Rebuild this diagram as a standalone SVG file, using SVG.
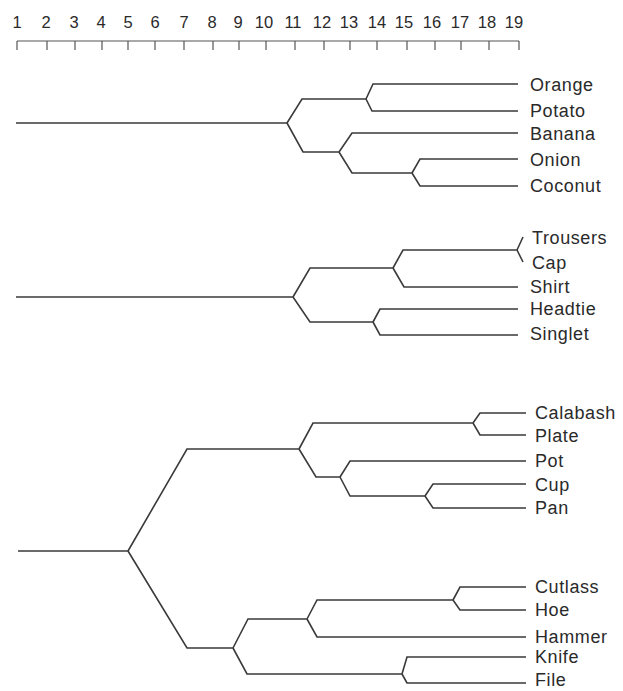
<svg xmlns="http://www.w3.org/2000/svg" width="623" height="691" viewBox="0 0 623 691">
<style>
.ln{fill:none;stroke:#3a3a3a;stroke-width:1.6;stroke-linejoin:miter;stroke-linecap:butt}
.sc{fill:none;stroke:#555;stroke-width:1.2}
.lb{font-family:"Liberation Sans",Arial,sans-serif;font-size:18px;fill:#2a2a2a;letter-spacing:0.6px}
.nm{font-family:"Liberation Sans",Arial,sans-serif;font-size:16.5px;fill:#2a2a2a;text-anchor:middle}
</style>
<rect width="623" height="691" fill="#fff"/>
<g id="scale">
<path class="sc" d="M17,41 H519 M17,41 V50 M47,41 V50 M75,41 V50 M102,41 V50 M128,41 V50 M155,41 V50 M184,41 V50 M213,41 V50 M239,41 V50 M266,41 V50 M295,41 V50 M324,41 V50 M350,41 V50 M377,41 V50 M407,41 V50 M435,41 V50 M461,41 V50 M489,41 V50 M519,41 V50"/>
<text class="nm" x="17" y="28">1</text>
<text class="nm" x="46" y="28">2</text>
<text class="nm" x="74" y="28">3</text>
<text class="nm" x="101" y="28">4</text>
<text class="nm" x="128" y="28">5</text>
<text class="nm" x="155" y="28">6</text>
<text class="nm" x="184" y="28">7</text>
<text class="nm" x="212" y="28">8</text>
<text class="nm" x="238" y="28">9</text>
<text class="nm" x="264" y="28">10</text>
<text class="nm" x="293" y="28">11</text>
<text class="nm" x="322" y="28">12</text>
<text class="nm" x="349" y="28">13</text>
<text class="nm" x="377" y="28">14</text>
<text class="nm" x="404" y="28">15</text>
<text class="nm" x="432" y="28">16</text>
<text class="nm" x="460" y="28">17</text>
<text class="nm" x="487" y="28">18</text>
<text class="nm" x="514" y="28">19</text>
</g>
<g id="connectors">
<path class="ln" d="M16,123 H287 M287,123 L302,99 H366 M366,99 L373,84 H518 M366,99 L372,111 H518 M287,123 L303,152 H339 M339,152 L352,133 H518 M339,152 L352,173 H412 M412,173 L420,159 H518 M412,173 L420,186 H518"/>
<path class="ln" d="M16,297 H293 M293,297 L310,268 H393 M393,268 L403,250 H517 M517,250 L523,237 M517,250 L523,262 M393,268 L404,287 H518 M293,297 L310,322 H373 M373,322 L380,309 H518 M373,322 L380,335 H518"/>
<path class="ln" d="M18,551 H128 M128,551 L187,449 H299 M299,449 L313,423 H473 M473,423 L480,413 H526 M473,423 L480,435 H526 M299,449 L316,477 H340 M340,477 L350,461 H526 M340,477 L350,496 H425 M425,496 L433,484 H526 M425,496 L433,508 H526 M128,551 L187,648 H233 M233,648 L248,619 H307 M307,619 L317,600 H453 M453,600 L460,587 H526 M453,600 L460,610 H526 M307,619 L317,637 H526 M233,648 L247,674 H402 M402,674 L407,657 H526 M402,674 L407,683 H526"/>
</g>
<g id="orange"><text class="lb" x="530" y="91">Orange</text></g>
<g id="potato"><text class="lb" x="530" y="117">Potato</text></g>
<g id="banana"><text class="lb" x="530" y="140">Banana</text></g>
<g id="onion"><text class="lb" x="530" y="166">Onion</text></g>
<g id="coconut"><text class="lb" x="530" y="192">Coconut</text></g>
<g id="trousers"><text class="lb" x="532" y="244">Trousers</text></g>
<g id="cap"><text class="lb" x="532" y="269">Cap</text></g>
<g id="shirt"><text class="lb" x="530" y="293">Shirt</text></g>
<g id="headtie"><text class="lb" x="530" y="315">Headtie</text></g>
<g id="singlet"><text class="lb" x="530" y="340">Singlet</text></g>
<g id="calabash"><text class="lb" x="535" y="419">Calabash</text></g>
<g id="plate"><text class="lb" x="535" y="442">Plate</text></g>
<g id="pot"><text class="lb" x="535" y="467">Pot</text></g>
<g id="cup"><text class="lb" x="535" y="491">Cup</text></g>
<g id="pan"><text class="lb" x="535" y="514">Pan</text></g>
<g id="cutlass"><text class="lb" x="535" y="593">Cutlass</text></g>
<g id="hoe"><text class="lb" x="535" y="616">Hoe</text></g>
<g id="hammer"><text class="lb" x="535" y="643">Hammer</text></g>
<g id="knife"><text class="lb" x="535" y="663">Knife</text></g>
<g id="file"><text class="lb" x="535" y="686">File</text></g>
</svg>
